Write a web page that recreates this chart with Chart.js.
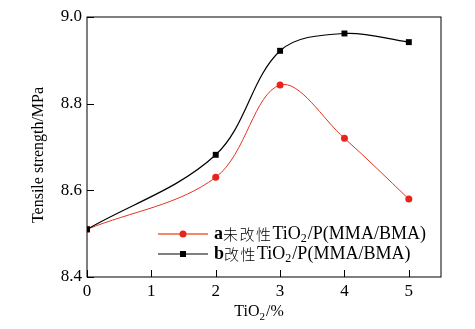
<!DOCTYPE html>
<html>
<head>
    <meta charset="UTF-8">
    <title>Tensile strength</title>
    <script src="https://cdn.jsdelivr.net/npm/chart.js"></script>
    <style>
        body { margin: 0; background: #fff; }
    </style>
</head>
<body>

<canvas id="tensileChart" width="475" height="329"></canvas>

<script>
    // TiO2 content, %
    var tio2 = [0, 2, 3, 4, 5];
    // a: unmodified TiO2/P(MMA/BMA)
    var seriesA = [8.51, 8.63, 8.843, 8.72, 8.58];
    // b: modified TiO2/P(MMA/BMA)
    var seriesB = [8.51, 8.682, 8.922, 8.962, 8.942];
    var xTicks = [0, 1, 2, 3, 4, 5];
    var yTicks = [8.4, 8.6, 8.8, 9.0];
    var labelA = ['a', '未改性', 'TiO', '2', '/P(MMA/BMA)'];
    var labelB = ['b', '改性', 'TiO', '2', '/P(MMA/BMA)'];
    var xTitle = ['TiO', '2', '/%'];
    var yTitle = 'Tensile strength/MPa';

    var serif = '"Liberation Serif", serif';
    var cjk = '"Noto Sans CJK SC", sans-serif';

    function toPoints(ys) {
        return tio2.map(function (x, i) { return { x: x, y: ys[i] }; });
    }

    // draw text pieces left to right; subscripts have an offset, CJK pieces get spaced out
    function drawParts(ctx, parts, fonts, offsets, gaps, x, y, dry) {
        parts.forEach(function (t, i) {
            ctx.font = fonts[i];
            var chars = gaps[i] ? Array.from(t) : [t];
            chars.forEach(function (c) {
                if (!dry) ctx.fillText(c, x, y + offsets[i]);
                x += ctx.measureText(c).width + gaps[i];
            });
            if (offsets[i]) x += 1;
        });
        return x;
    }

    // рамка, внутренние засечки, подписи осей и легенда
    var framePlugin = {
        id: 'frame',
        afterDraw: function (chart) {
            var ctx = chart.ctx;
            var area = chart.chartArea;
            var xs = chart.scales.x;
            var ys = chart.scales.y;
            ctx.save();
            ctx.strokeStyle = '#000';
            ctx.lineWidth = 1;
            ctx.strokeRect(area.left, area.top, area.right - area.left, area.bottom - area.top);
            ctx.beginPath();
            xTicks.forEach(function (v) {
                var px = Math.round(xs.getPixelForValue(v)) + 0.5;
                ctx.moveTo(px, area.bottom);
                ctx.lineTo(px, area.bottom - 7);
            });
            yTicks.forEach(function (v) {
                var py = Math.round(ys.getPixelForValue(v)) + 0.5;
                ctx.moveTo(area.left, py);
                ctx.lineTo(area.left + 7, py);
            });
            ctx.stroke();

            ctx.fillStyle = '#000';
            ctx.textBaseline = 'middle';

            // x title
            var xf = ['16px ' + serif, '11px ' + serif, '16px ' + serif];
            var xo = [0, 5, 0];
            var xg = [0, 0, 0];
            var w = drawParts(ctx, xTitle, xf, xo, xg, 0, 0, true);
            drawParts(ctx, xTitle, xf, xo, xg, 259 - w / 2, 312);

            // y title
            ctx.save();
            ctx.translate(39, 155);
            ctx.rotate(-Math.PI / 2);
            ctx.font = '16px ' + serif;
            ctx.textAlign = 'center';
            ctx.fillText(yTitle, 0, 0);
            ctx.restore();

            // legend
            var rows = [
                { parts: labelA, color: '#f08a6c', mark: '#e8231c', width: 2, style: 'circle', y: 234 },
                { parts: labelB, color: '#000', mark: '#000', width: 1.2, style: 'rect', y: 254 }
            ];
            var lf = ['bold 18px ' + serif, '300 15px ' + cjk, '18px ' + serif, '12px ' + serif, '18px ' + serif];
            var lo = [0, 0, 0, 5, 0];
            var lg = [0, 1.5, 0, 0, 0];
            rows.forEach(function (r) {
                ctx.strokeStyle = r.color;
                ctx.lineWidth = r.width;
                ctx.beginPath();
                ctx.moveTo(158, r.y);
                ctx.lineTo(208, r.y);
                ctx.stroke();
                ctx.fillStyle = r.mark;
                if (r.style === 'circle') {
                    ctx.beginPath();
                    ctx.arc(183, r.y, 3.5, 0, Math.PI * 2);
                    ctx.fill();
                } else {
                    ctx.fillRect(180, r.y - 3, 6, 6);
                }
                ctx.fillStyle = '#000';
                drawParts(ctx, r.parts, lf, lo, lg, 214, r.y);
            });
            ctx.restore();
        }
    };

    var chart = new Chart('tensileChart', {
        type: 'line',
        data: {
            datasets: [
                {
                    label: 'b改性TiO2/P(MMA/BMA)',
                    data: toPoints(seriesB),
                    borderColor: '#000',
                    backgroundColor: '#000',
                    borderWidth: 1.2,
                    pointStyle: 'rect',
                    pointRadius: 4.2,
                    pointBorderWidth: 0,
                    tension: 0.35,
                    fill: false
                },
                {
                    label: 'a未改性TiO2/P(MMA/BMA)',
                    data: toPoints(seriesA),
                    borderColor: '#e8321f',
                    backgroundColor: '#e8231c',
                    borderWidth: 1,
                    pointStyle: ['rect', 'circle', 'circle', 'circle', 'circle'],
                    pointRadius: [4.2, 3.5, 3.5, 3.5, 3.5],
                    pointBorderWidth: 0,
                    tension: 0.35,
                    fill: false
                }
            ]
        },
        options: {
            responsive: false,
            animation: false,
            layout: { padding: { left: 0, right: 34, top: 17, bottom: 0 } },
            plugins: {
                legend: { display: false },
                tooltip: { enabled: false }
            },
            scales: {
                x: {
                    type: 'linear',
                    min: 0,
                    max: 5.5,
                    afterBuildTicks: function (s) {
                        s.ticks = xTicks.map(function (v) { return { value: v }; });
                    },
                    afterFit: function (s) { s.height = 52; },
                    grid: { display: false, drawTicks: false },
                    border: { display: false },
                    ticks: {
                        color: '#000',
                        padding: 4,
                        maxRotation: 0,
                        font: { family: serif, size: 17 }
                    }
                },
                y: {
                    min: 8.4,
                    max: 9.0,
                    afterBuildTicks: function (s) {
                        s.ticks = yTicks.map(function (v) { return { value: v }; });
                    },
                    afterFit: function (s) { s.width = 87; },
                    grid: { display: false, drawTicks: false },
                    border: { display: false },
                    ticks: {
                        color: '#000',
                        padding: 5,
                        font: { family: serif, size: 17 },
                        callback: function (v) { return v.toFixed(1); }
                    }
                }
            }
        },
        plugins: [framePlugin]
    });
</script>

</body>
</html>
